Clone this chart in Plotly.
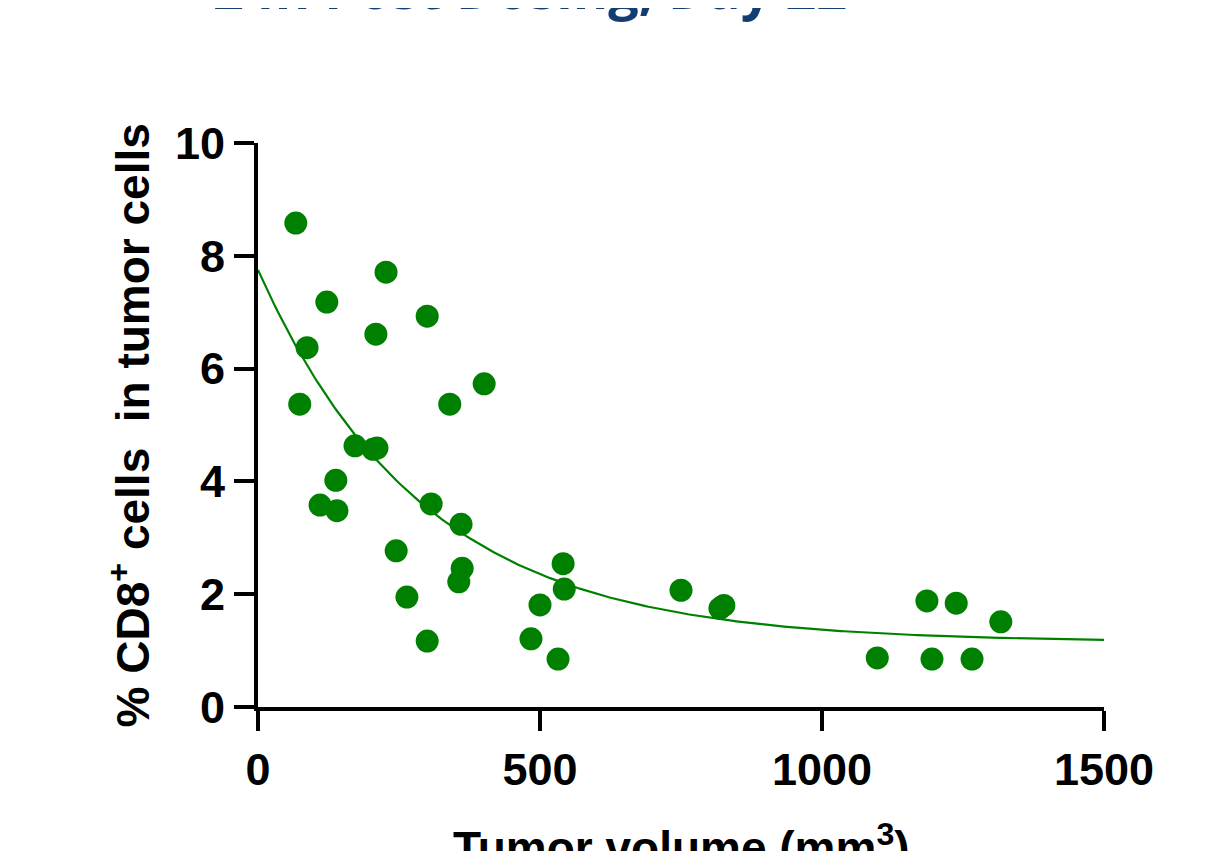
import numpy as np
import plotly.graph_objects as go

# Data
tumor_volume = [67, 87, 74, 122, 227, 209, 300, 401, 340, 172, 204, 211, 138, 110, 140,
                307, 360, 245, 362, 356, 264, 300, 500, 484, 532, 541, 543, 750, 819, 826,
                1098, 1186, 1238, 1195, 1266, 1317]
cd8_pct = [8.58, 6.37, 5.37, 7.18, 7.71, 6.61, 6.93, 5.73, 5.37, 4.63, 4.57, 4.59, 4.02, 3.58, 3.48,
           3.60, 3.24, 2.77, 2.46, 2.22, 1.95, 1.17, 1.81, 1.21, 0.85, 2.54, 2.09, 2.07, 1.75, 1.80,
           0.87, 1.88, 1.84, 0.85, 0.85, 1.51]

# One-phase decay fit parameters
fit_y0 = 7.75
fit_plateau = 1.15
fit_k = 0.0034

x_ticks = [0, 500, 1000, 1500]
y_ticks = [0, 2, 4, 6, 8, 10]

title_text = "24h Post Dosing, Day 22"
x_title = "Tumor volume (mm<sup>3</sup>)"
y_title = "% CD8<sup>+</sup> cells  in tumor cells"

GREEN = "#008000"

xf = np.linspace(0, 1500, 300)
yf = fit_plateau + (fit_y0 - fit_plateau) * np.exp(-fit_k * xf)

fig = go.Figure()
fig.add_trace(go.Scatter(x=xf, y=yf, mode="lines", line=dict(color=GREEN, width=2.2),
                         hoverinfo="skip", showlegend=False))
fig.add_trace(go.Scatter(x=tumor_volume, y=cd8_pct, mode="markers",
                         marker=dict(color=GREEN, size=23, line=dict(width=0)),
                         showlegend=False, cliponaxis=False))

FONT = "Liberation Sans, Arial, sans-serif"
axis_font = dict(family=FONT, size=45, color="black")

fig.update_layout(
    width=1225, height=851,
    margin=dict(l=250, r=129, t=135, b=152),
    paper_bgcolor="white", plot_bgcolor="white",
    font=dict(family=FONT, color="black"),
    xaxis=dict(range=[0, 1500], tickvals=x_ticks, ticktext=[f"<b>{v}</b>" for v in x_ticks],
               showgrid=False, zeroline=False, showline=True, linecolor="black", linewidth=4,
               ticks="outside", ticklen=20, tickwidth=4, tickcolor="black",
               tickfont=axis_font),
    yaxis=dict(range=[0, 10], tickvals=y_ticks, ticktext=[f"<b>{v}</b>" for v in y_ticks],
               showgrid=False, zeroline=False, showline=True, linecolor="black", linewidth=4,
               ticks="outside", ticklen=20, tickwidth=4, tickcolor="black",
               tickfont=axis_font),
    annotations=[
        dict(text=f"<b>{x_title}</b>", xref="paper", yref="paper", x=0.5, y=-0.245,
             xanchor="center", yanchor="middle", showarrow=False,
             font=dict(family=FONT, size=46, color="black")),
        dict(text=f"<b>{y_title}</b>", xref="paper", yref="paper", x=-0.152, y=0.5,
             xanchor="center", yanchor="middle", showarrow=False, textangle=-90,
             font=dict(family=FONT, size=46, color="black")),
        dict(text=f"<b>{title_text}</b>", xref="paper", yref="paper", x=(530 - 258) / 846,
             y=(707 - 5) / 564, xanchor="center", yanchor="bottom", showarrow=False,
             yshift=-22,
             font=dict(family="Open Sans, sans-serif", size=54, color="#123E72")),
    ],
)

fig.write_html("out.html")
